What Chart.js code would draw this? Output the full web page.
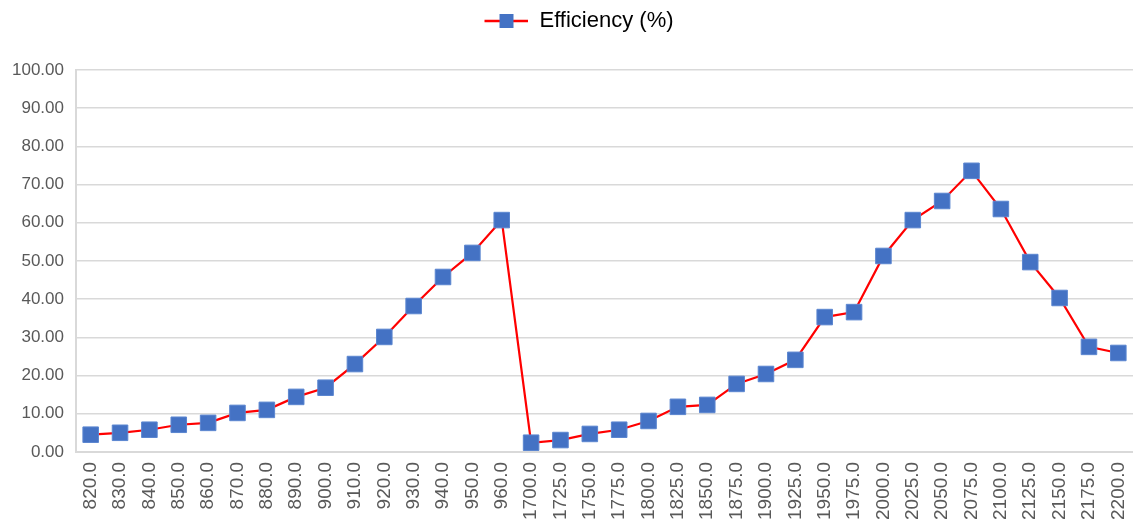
<!DOCTYPE html>
<html>
<head>
<meta charset="utf-8">
<script src="https://cdn.jsdelivr.net/npm/chart.js@4/dist/chart.umd.min.js"></script>
<style>
  html, body { margin: 0; padding: 0; background: #fff; }
  #wrap { width: 1133px; height: 532px; }
</style>
</head>
<body>
<div id="wrap"><canvas id="myChart"></canvas></div>
<script>
let wavelengths = [820, 830, 840, 850, 860, 870, 880, 890, 900, 910, 920, 930, 940, 950, 960,
    1700, 1725, 1750, 1775, 1800, 1825, 1850, 1875, 1900, 1925, 1950, 1975, 2000, 2025, 2050,
    2075, 2100, 2125, 2150, 2175, 2200];
let efficiency = [4.5, 5.0, 5.8, 7.1, 7.6, 10.2, 11.0, 14.4, 16.8, 23.0, 30.1, 38.2, 45.8, 52.1, 60.7,
    2.4, 3.1, 4.7, 5.8, 8.1, 11.8, 12.3, 17.8, 20.4, 24.1, 35.3, 36.6, 51.3, 60.7, 65.7,
    73.6, 63.6, 49.7, 40.3, 27.5, 25.9];
let seriesName = 'Efficiency (%)';

// legend symbol: red line with blue square (blank space on the left nudges the legend right)
let sym = document.createElement('canvas');
sym.width = 66;
sym.height = 16;
let sc = sym.getContext('2d');
sc.strokeStyle = '#ff0000';
sc.lineWidth = 2.5;
sc.beginPath();
sc.moveTo(22, 8);
sc.lineTo(66, 8);
sc.stroke();
sc.fillStyle = '#4472c4';
sc.fillRect(37, 1, 14, 14);

// extra gap under the legend
let legendGap = {
    id: 'legendGap',
    beforeInit(chart) {
        let fit = chart.legend.fit;
        chart.legend.fit = function () {
            fit.bind(chart.legend)();
            this.height += 28;
        };
    }
};

let ctx = document.getElementById('myChart').getContext('2d');
let myChart = new Chart(ctx, {
    type: 'line',
    data: {
        labels: wavelengths.map(v => v.toFixed(1)),
        datasets: [{
            label: seriesName,
            data: efficiency,
            borderColor: '#ff0000',
            borderWidth: 2.2,
            tension: 0,
            pointStyle: 'rect',
            pointRadius: 11,
            pointHoverRadius: 11,
            pointBackgroundColor: '#4472c4',
            pointBorderColor: '#5b86d0',
            pointBorderWidth: 1
        }]
    },
    plugins: [legendGap],
    options: {
        responsive: true,
        maintainAspectRatio: false,
        animation: false,
        layout: {
            autoPadding: false,
            padding: { left: 0, right: -3, top: 0, bottom: 2 }
        },
        plugins: {
            legend: {
                position: 'top',
                labels: {
                    usePointStyle: true,
                    pointStyle: sym,
                    pointStyleWidth: 66,
                    boxHeight: 16,
                    color: '#000',
                    font: { family: 'Liberation Sans', size: 22 },
                    padding: 10
                }
            },
            tooltip: { enabled: false }
        },
        scales: {
            x: {
                offset: true,
                afterFit: scale => { scale.paddingRight = 0; },
                grid: { display: false, drawTicks: false },
                border: { display: true, color: '#d9d9d9', width: 2 },
                ticks: {
                    minRotation: 90,
                    maxRotation: 90,
                    autoSkip: false,
                    padding: 10,
                    color: '#595959',
                    font: { family: 'Liberation Sans', size: 19 }
                }
            },
            y: {
                min: 0,
                max: 100,
                ticks: {
                    stepSize: 10,
                    padding: 12,
                    color: '#595959',
                    font: { family: 'Liberation Sans', size: 17 },
                    callback: v => v.toFixed(2)
                },
                grid: { color: '#d9d9d9', lineWidth: 1.5, drawTicks: false },
                border: { display: true, color: '#d9d9d9', width: 2 }
            }
        }
    }
});
</script>
</body>
</html>
